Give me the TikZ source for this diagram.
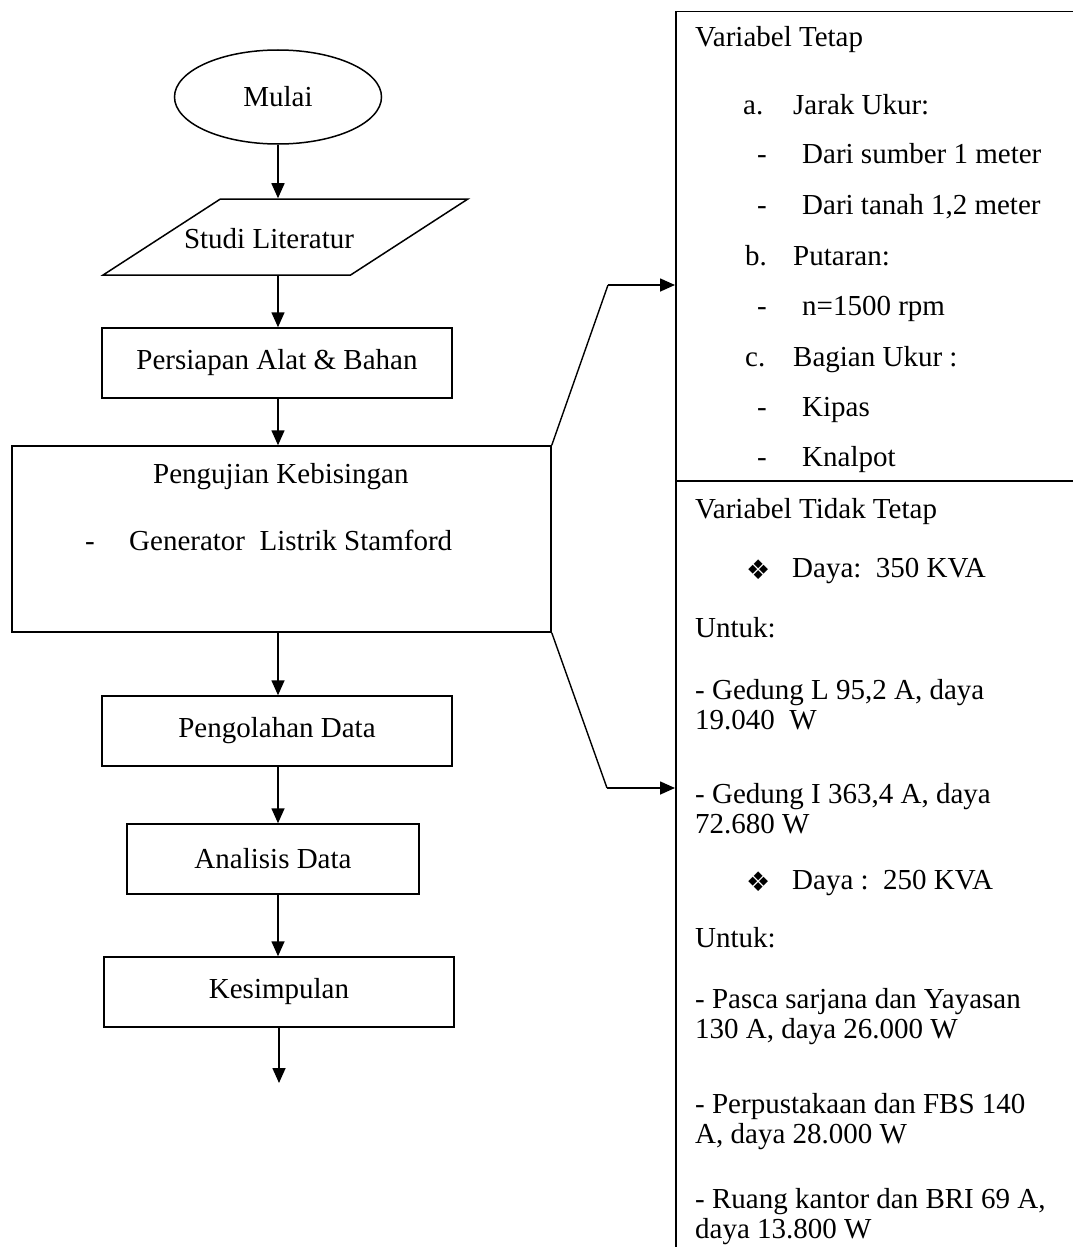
\documentclass[tikz,border=0pt]{standalone}
\usepackage{fontspec}
\setmainfont{Liberation Serif}
\newfontfamily\dingfont{DejaVu Sans}
\usetikzlibrary{arrows.meta,shapes.geometric,positioning}
\tikzset{
  box/.style={draw, line width=1.5pt, rectangle, inner sep=0pt},
  arr/.style={-{Triangle[length=15pt,width=13pt]}, line width=1.6pt},
  link/.style={line width=1.4pt},
  txt/.style={anchor=base west, inner sep=0pt},
}
\newcommand{\dbul}{{\dingfont\fontsize{27}{27}\selectfont ❖}}
\begin{document}
\begin{tikzpicture}[x=1pt,y=-1pt,font=\fontsize{29}{30}\selectfont]
\useasboundingbox (0,0) rectangle (1073,1247);
\clip (0,0) rectangle (1073,1247);
% alur penelitian
\node[box, ellipse, minimum width=207pt, minimum height=94pt] (start) at (278,97) {Mulai};
\node[box, trapezium, trapezium left angle=48, trapezium right angle=132, inner sep=4pt,
  trapezium stretches=true, minimum width=365pt, minimum height=76pt] (lit) at (285.5,237) {};
\node (littext) at (269,239) {Studi Literatur};
\node[box, minimum width=350pt, minimum height=70pt] (pers) at (277,363) {Persiapan Alat \& Bahan};
\node[box, minimum width=539pt, minimum height=186pt] (uji) at (281.5,539) {};
\node[txt] (ujititle) at (153,483) {Pengujian Kebisingan};
\node[txt] (ujidash) at (85,550) {-};
\node[txt] (ujisub) at (129,550) {Generator\ \ Listrik Stamford};
\node[box, minimum width=350pt, minimum height=70pt] (olah) at (277,731) {Pengolahan Data};
\node[box, minimum width=292pt, minimum height=70pt] (anal) at (273,859) {Analisis Data};
\node[box, minimum width=350pt, minimum height=70pt] (simp) at (279,992) {Kesimpulan};
\coordinate (stop) at (279,1083);
% panah alur
\draw[arr] (start.south) -- (lit.north -| start.south);
\draw[arr] (lit.south -| start.south) -- (pers.north -| start.south);
\draw[arr] (pers.south -| start.south) -- (uji.north -| start.south);
\draw[arr] (uji.south -| start.south) -- (olah.north -| start.south);
\draw[arr] (olah.south -| start.south) -- (anal.north -| start.south);
\draw[arr] (anal.south -| start.south) -- (simp.north -| start.south);
\draw[arr] (simp.south -| stop) -- (stop);
% kotak variabel
\node[box, anchor=north west, minimum width=420pt, minimum height=469pt] (tetap) at (675,11) {};
\node[box, anchor=north west, minimum width=420pt, minimum height=800pt] (tidak) at (675,480) {};
\coordinate (k1) at (608,285);
\coordinate (k2) at (607,788);
\draw[link] (uji.north east) -- (k1);
\draw[arr] (k1) -- (k1 -| tetap.west);
\draw[link] (uji.south east) -- (k2);
\draw[arr] (k2) -- (k2 -| tidak.west);
% variabel tetap
\node[txt] (vt) at (695,47) {Variabel Tetap};
\node[txt] (va) at (743,114) {a.};
\node[txt] (vajarak) at (793,114) {Jarak Ukur:};
\node[txt] (vad1) at (757,163) {-};
\node[txt] (vas1) at (802,163) {Dari sumber 1 meter};
\node[txt] (vad2) at (757,214) {-};
\node[txt] (vas2) at (802,214) {Dari tanah 1,2 meter};
\node[txt] (vb) at (745,265) {b.};
\node[txt] (vbput) at (793,265) {Putaran:};
\node[txt] (vbd1) at (757,315) {-};
\node[txt] (vbs1) at (802,315) {n=1500 rpm};
\node[txt] (vc) at (745,366) {c.};
\node[txt] (vcbag) at (793,366) {Bagian Ukur :};
\node[txt] (vcd1) at (757,416) {-};
\node[txt] (vcs1) at (802,416) {Kipas};
\node[txt] (vcd2) at (757,466) {-};
\node[txt] (vcs2) at (802,466) {Knalpot};
% variabel tidak tetap (base = baris terakhir)
\node[txt] (vtt) at (695,518) {Variabel Tidak Tetap};
\node[txt] (b1) at (746,579) {\dbul};
\node[txt] (daya1) at (792,577) {Daya:\ \ 350 KVA};
\node[txt] (untuk1) at (695,637) {Untuk:};
\node[txt, align=left] (gedl) at (695,729) {- Gedung L 95,2 A, daya\\19.040\ \ W};
\node[txt, align=left] (gedi) at (695,833) {- Gedung I 363,4 A, daya\\72.680 W};
\node[txt] (b2) at (746,891) {\dbul};
\node[txt] (daya2) at (792,889) {Daya :\ \ 250 KVA};
\node[txt] (untuk2) at (695,947) {Untuk:};
\node[txt, align=left] (pasca) at (695,1038) {- Pasca sarjana dan Yayasan\\130 A, daya 26.000 W};
\node[txt, align=left] (pust) at (695,1143) {- Perpustakaan dan FBS 140\\A, daya 28.000 W};
\node[txt, align=left] (ruang) at (695,1238) {- Ruang kantor dan BRI 69 A,\\daya 13.800 W};
\end{tikzpicture}
\end{document}
